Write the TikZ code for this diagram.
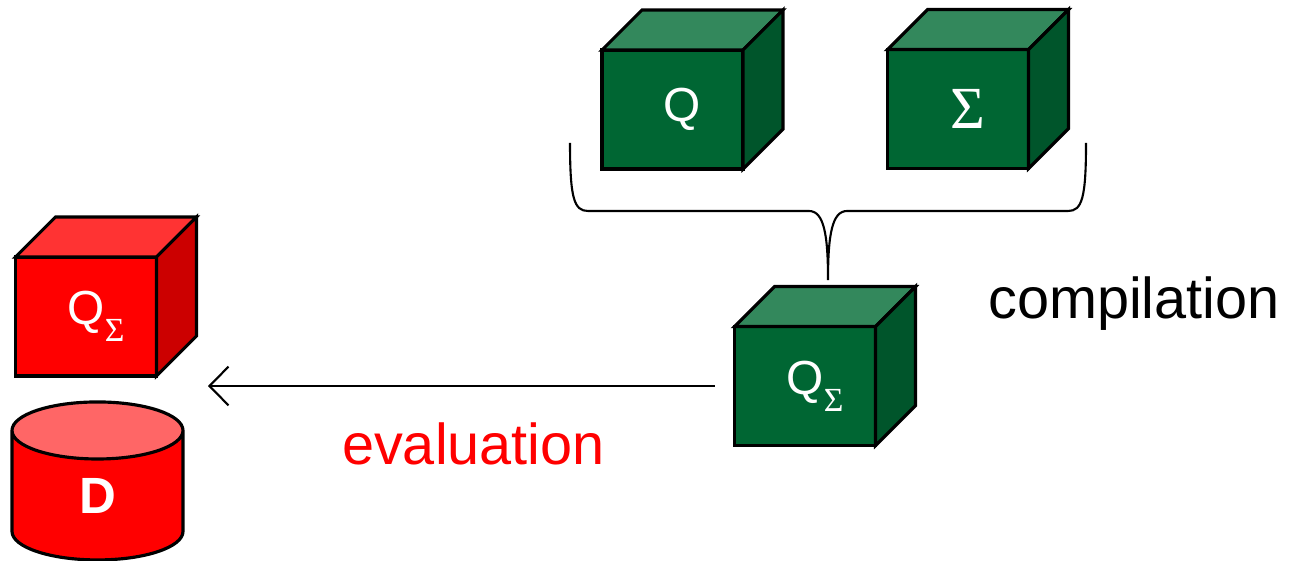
\documentclass[tikz,border=0pt]{standalone}
\usepackage{fontspec}
\setmainfont{Liberation Sans}
\newfontfamily\seriffont{Liberation Serif}
\usepackage{tikz}
\usetikzlibrary{positioning, shapes.geometric, arrows.meta}

\definecolor{greenfront}{RGB}{0,102,51}
\definecolor{greentop}{RGB}{51,136,92}
\definecolor{greenside}{RGB}{0,85,43}
\definecolor{redfront}{RGB}{255,0,0}
\definecolor{redtop}{RGB}{255,51,51}
\definecolor{redside}{RGB}{204,0,0}
\definecolor{redlid}{RGB}{255,102,102}

\newcommand{\bigsigma}{{\seriffont\fontsize{17}{20}\selectfont Σ}}
\newcommand{\subsigma}{\raisebox{-0.17cm}{\seriffont\fontsize{9.6}{11}\selectfont Σ}}

\tikzset{
    cubeedge/.style={draw=black, line width=0.9pt},
    cubefront/.style={cubeedge, rectangle, minimum width=1.41cm, minimum height=1.19cm,
        inner sep=0pt, outer sep=0pt, text=white, font=\fontsize{13.6}{16}\selectfont,
        execute at begin node=\hspace*{0.2cm}},
    dbcyl/.style={cylinder, shape border rotate=90, aspect=1.55, draw=black, line width=0.9pt,
        minimum width=1.71cm, minimum height=1.58cm, inner sep=0pt, outer sep=0pt,
        cylinder uses custom fill, cylinder body fill=redfront, cylinder end fill=redlid,
        text=white, font=\bfseries\fontsize{14.5}{17}\selectfont},
    steplabel/.style={font=\fontsize{16.4}{20}\selectfont, anchor=base},
    evalarrow/.style={-{Straight Barb[length=5.4pt, width=11pt]}, line width=0.6pt},
    brace/.style={line width=0.6pt}
}

\begin{document}
\begin{tikzpicture}
    \useasboundingbox (0, 0) rectangle (13, 5.6);

    \node (q) [cubefront, fill=greenfront] at (6.725, 4.505) {Q};
    \node (sigma) [cubefront, fill=greenfront] at (9.58, 4.51) {\bigsigma};
    \node (qs) [cubefront, fill=greenfront] at (8.05, 1.74) {Q\subsigma};
    \node (rqs) [cubefront, fill=redfront] at (0.86, 2.435) {Q\subsigma};
    \node (db) [dbcyl] at (0.975, 0.64) {D};

    \node (compilation) [steplabel] at (11.34, 2.41) {compilation};
    \node (evaluation) [steplabel, text=red] at (4.735, 0.96) {evaluation};

    % top and side faces of the cubes
    \filldraw[cubeedge, fill=greentop] (q.north west) -- ++(0.4, 0.4) -- ([shift={(0.4, 0.4)}]q.north east) -- (q.north east) -- cycle;
    \filldraw[cubeedge, fill=greenside] (q.north east) -- ++(0.4, 0.4) -- ([shift={(0.4, 0.4)}]q.south east) -- (q.south east) -- cycle;
    \filldraw[cubeedge, fill=greentop] (sigma.north west) -- ++(0.4, 0.4) -- ([shift={(0.4, 0.4)}]sigma.north east) -- (sigma.north east) -- cycle;
    \filldraw[cubeedge, fill=greenside] (sigma.north east) -- ++(0.4, 0.4) -- ([shift={(0.4, 0.4)}]sigma.south east) -- (sigma.south east) -- cycle;
    \filldraw[cubeedge, fill=greentop] (qs.north west) -- ++(0.4, 0.4) -- ([shift={(0.4, 0.4)}]qs.north east) -- (qs.north east) -- cycle;
    \filldraw[cubeedge, fill=greenside] (qs.north east) -- ++(0.4, 0.4) -- ([shift={(0.4, 0.4)}]qs.south east) -- (qs.south east) -- cycle;
    \filldraw[cubeedge, fill=redtop] (rqs.north west) -- ++(0.4, 0.4) -- ([shift={(0.4, 0.4)}]rqs.north east) -- (rqs.north east) -- cycle;
    \filldraw[cubeedge, fill=redside] (rqs.north east) -- ++(0.4, 0.4) -- ([shift={(0.4, 0.4)}]rqs.south east) -- (rqs.south east) -- cycle;

    % brace joining Q and Sigma
    \coordinate (bracetip) at (8.28, 2.80);
    \draw[brace] (5.70, 4.17) .. controls (5.70, 3.62) and (5.74, 3.49) .. (5.88, 3.49)
        -- (8.09, 3.49) .. controls (8.24, 3.49) and (8.28, 3.25) .. (bracetip)
        .. controls (8.28, 3.25) and (8.32, 3.49) .. (8.47, 3.49)
        -- (10.68, 3.49) .. controls (10.82, 3.49) and (10.86, 3.62) .. (10.86, 4.17);

    \coordinate (evaltip) at (2.08, 1.74);
    \draw[evalarrow] ([xshift=-0.2cm]qs.west) -- (evaltip);
\end{tikzpicture}
\end{document}
